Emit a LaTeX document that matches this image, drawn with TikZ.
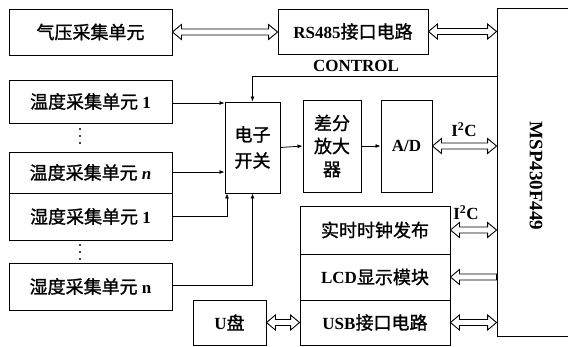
\documentclass[tikz,border=0pt]{standalone}
\usepackage{fontspec}
\setmainfont{Liberation Serif}
\newfontfamily\cjk[FakeBold=1.2]{Noto Sans CJK SC}
\usetikzlibrary{calc,arrows.meta}
\newcommand\zh[1]{{\cjk\mdseries\fontsize{18}{21}\selectfont #1}}
\newcommand\dblarrow[2]{\draw[harrow] let \p1=(#1), \p2=(#2) in
  (\x1,\y1) -- (\x1+9pt,\y1+7.5pt) -- (\x1+9pt,\y1+3pt) -- (\x2-9pt,\y1+3pt) -- (\x2-9pt,\y1+7.5pt) -- (\x2,\y1)
  -- (\x2-9pt,\y1-7.5pt) -- (\x2-9pt,\y1-3pt) -- (\x1+9pt,\y1-3pt) -- (\x1+9pt,\y1-7.5pt) -- cycle;}
\newcommand\leftarrowh[2]{\draw[harrow] let \p1=(#1), \p2=(#2) in
  (\x1,\y1) -- (\x1+9pt,\y1+7.5pt) -- (\x1+9pt,\y1+3pt) -- (\x2,\y1+3pt) -- (\x2,\y1-3pt) -- (\x1+9pt,\y1-3pt) -- (\x1+9pt,\y1-7.5pt) -- cycle;}
\tikzset{
  box/.style={draw, line width=0.9pt, inner sep=0pt, align=center, font=\fontsize{17}{20}\selectfont\bfseries},
  harrow/.style={draw, line width=0.9pt, fill=white, line join=miter},
  tarrow/.style={line width=0.8pt, -{Latex[length=5pt,width=4pt]}},
  lab/.style={font=\fontsize{17}{20}\selectfont\bfseries, inner sep=0pt}
}
\begin{document}
\begin{tikzpicture}[x=1pt,y=-1pt]
\useasboundingbox (0,0) rectangle (568,346);
% boxes
\node[box, minimum width=163pt, minimum height=46pt] (qiya) at (90.5,32) {\zh{气压采集单元}};
\node[box, minimum width=150pt, minimum height=45pt] (rs) at (353,31.5) {RS485\zh{接口电路}};
\node[box, minimum width=90pt, minimum height=328pt] (msp) at (542,172) {};
\node[lab, rotate=-90, font=\fontsize{19}{22}\selectfont\bfseries] (msptext) at (536,176) {MSP430F449};
\node[box, minimum width=163pt, minimum height=43pt] (w1) at (90.5,101.5) {\zh{温度采集单元} 1};
\node[box, minimum width=163pt, minimum height=41pt] (wn) at (90.5,172.5) {\zh{温度采集单元} \textit{n}};
\node[box, minimum width=163pt, minimum height=47pt] (s1) at (90.5,216.5) {\zh{湿度采集单元} 1};
\node[box, minimum width=163pt, minimum height=47pt] (sn) at (90.5,286.5) {\zh{湿度采集单元} n};
\node[box, minimum width=55pt, minimum height=91pt] (sw) at (252.5,147.5) {\zh{电子}\\[6pt]\zh{开关}};
\node[box, minimum width=58pt, minimum height=92pt] (diff) at (332,146) {\zh{差分}\\[3pt]\zh{放大}\\[3pt]\zh{器}};
\node[box, minimum width=51pt, minimum height=92pt] (ad) at (406.5,146) {A/D};
\node[box, minimum width=150pt, minimum height=48pt] (rtc) at (375,230) {\zh{实时时钟发布}};
\node[box, minimum width=150pt, minimum height=46pt] (lcd) at (375,277) {LCD\zh{显示模块}};
\node[box, minimum width=150pt, minimum height=45pt] (usb) at (375,322.5) {USB\zh{接口电路}};
\node[box, minimum width=73pt, minimum height=45pt] (upan) at (229.5,322.5) {U\zh{盘}};
% dots
\foreach \yy in {129,136,143,245,252,259} \fill (80,\yy) circle (1.1pt);
% hollow arrows
\dblarrow{qiya.east}{qiya.east -| rs.west}
\dblarrow{rs.east}{rs.east -| msp.west}
\dblarrow{ad.east}{ad.east -| msp.west}
\dblarrow{rtc.east}{rtc.east -| msp.west}
\leftarrowh{lcd.east}{lcd.east -| msp.west}
\dblarrow{usb.east}{usb.east -| msp.west}
\dblarrow{upan.east}{upan.east -| usb.west}
\node[lab] (i2c1) at (464,130) {I\textsuperscript{2}C};
\node[lab] (i2c2) at (466,213) {I\textsuperscript{2}C};
% control
\coordinate (ctl) at (497,76);
\draw[tarrow] (ctl) -| (sw.north);
\node[lab] (ctltext) at (356,66) {CONTROL};
% thin arrows
\coordinate (w1e) at (172,103);
\coordinate (wne) at (172,172);
\draw[tarrow] (w1e) -- (w1e -| sw.west);
\draw[tarrow] (wne) -- (wne -| sw.west);
\coordinate (s1e) at (172,216);
\coordinate (s1up) at (227,216);
\draw[tarrow] (s1e) -- (s1up) -- (s1up |- sw.south);
\coordinate (sne) at (172,285);
\draw[tarrow] (sne) -| (sw.south);
\draw[tarrow] (sw.east) -- (diff.west);
\draw[tarrow] (diff.east) -- (ad.west);
\end{tikzpicture}
\end{document}
